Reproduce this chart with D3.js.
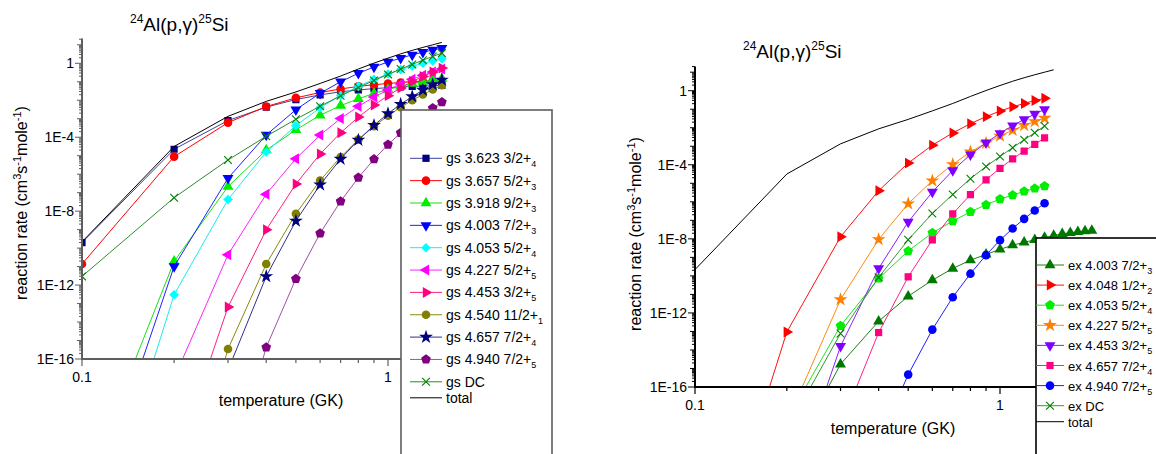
<!doctype html><html><head><meta charset="utf-8">
<style>body{margin:0;background:#fff}</style></head><body>
<script src="https://d3js.org/d3.v7.min.js"></script>
<script>
// temperatures (GK)
const tempsGs = [0.1,0.2,0.3,0.4,0.5,0.6,0.7,0.8,0.9,1.0,1.1,1.2,1.3,1.4,1.5];
const tempsEx = [0.1,0.2,0.3,0.4,0.5,0.6,0.7,0.8,0.9,1.0,1.1,1.2,1.3,1.4];
const tempsEx4003 = [0.1,0.2,0.3,0.4,0.5,0.6,0.7,0.8,0.9,1.0,1.1,1.2,1.3,1.4,1.5,1.6,1.7,1.8,1.9,2.0];

// rates, stored as decade exponents (log10 of cm^3 s^-1 mole^-1)
const gs3623 = [-9.70,-4.65,-3.10,-2.37,-1.96,-1.71,-1.54,-1.44,-1.37,-1.32,-1.28,-1.25,-1.23,-1.21,-1.20];
const gs3657 = [-10.86,-5.05,-3.21,-2.34,-1.87,-1.58,-1.39,-1.25,-1.16,-1.09,-1.04,-1.00,-0.97,-0.95,-0.94];
const gs3918 = [-23.3,-10.72,-6.67,-4.70,-3.60,-2.81,-2.29,-1.92,-1.63,-1.42,-1.24,-1.10,-0.99,-0.90,-0.82];
const gs4003 = [-25.7,-10.99,-6.22,-3.88,-2.51,-1.62,-1.00,-0.54,-0.20,0.07,0.28,0.46,0.60,0.72,0.82];
const gs4053 = [-28.4,-12.52,-7.37,-4.80,-3.37,-2.41,-1.74,-1.24,-0.87,-0.58,-0.34,-0.15,0.00,0.13,0.24];
const gs4227 = [-37.4,-17.05,-10.36,-7.08,-5.16,-3.88,-2.99,-2.33,-1.83,-1.44,-1.12,-0.86,-0.65,-0.47,-0.31];
const gs4453 = [-47.4,-21.8,-13.19,-9.01,-6.53,-4.91,-3.76,-2.91,-2.26,-1.75,-1.33,-0.99,-0.71,-0.47,-0.26];
const gs4540 = [-53.0,-25.5,-15.46,-10.86,-8.14,-6.34,-5.07,-4.13,-3.41,-2.84,-2.38,-2.00,-1.69,-1.42,-1.19];
const gs4657 = [-59.0,-26.8,-16.6,-11.53,-8.53,-6.57,-5.18,-4.15,-3.35,-2.72,-2.21,-1.80,-1.45,-1.15,-0.90];
const gs4940 = [-72.0,-34.2,-22.6,-15.37,-11.66,-9.20,-7.47,-6.19,-5.19,-4.40,-3.76,-3.24,-2.79,-2.42,-2.10];
const gsDC   = [-11.53,-7.27,-5.23,-3.95,-3.03,-2.32,-1.76,-1.31,-0.93,-0.60,-0.31,-0.06,0.17,0.37,0.55];
const total  = [-9.66,-4.50,-2.87,-2.06,-1.55,-1.09,-0.69,-0.31,0.01,0.28,0.51,0.70,0.86,1.00,1.13];

const ex4003 = [-40.0,-20.2,-14.77,-12.45,-11.10,-10.23,-9.60,-9.15,-8.84,-8.57,-8.34,-8.19,-8.05,-7.93,-7.82,-7.73,-7.67,-7.62,-7.58,-7.55];
const ex4048 = [-28.8,-13.03,-7.89,-5.40,-3.91,-2.94,-2.28,-1.78,-1.40,-1.10,-0.87,-0.69,-0.53,-0.41];
const ex4053 = [-30.0,-17.8,-12.70,-10.14,-8.66,-7.67,-7.04,-6.54,-6.16,-5.85,-5.64,-5.43,-5.28,-5.15];
const ex4227 = [-40.0,-17.9,-11.28,-8.03,-6.10,-4.86,-3.98,-3.30,-2.83,-2.44,-2.13,-1.87,-1.66,-1.48];
const ex4453 = [-50.0,-22.3,-13.80,-9.60,-7.09,-5.47,-4.31,-3.45,-2.81,-2.30,-1.89,-1.55,-1.26,-1.01];
const ex4657 = [-60.0,-30.0,-18.13,-13.06,-10.05,-8.05,-6.65,-5.61,-4.81,-4.19,-3.68,-3.26,-2.90,-2.55];
const ex4940 = [-80.0,-40.0,-28.0,-19.0,-15.33,-12.90,-11.15,-9.88,-8.88,-8.07,-7.44,-6.92,-6.47,-6.08];
const exDC   = [-30.0,-18.3,-13.11,-10.08,-8.05,-6.63,-5.60,-4.75,-4.09,-3.55,-3.08,-2.65,-2.27,-1.91];

const yTickLabels = ["1E-16","1E-12","1E-8","1E-4","1"];
const xTickLabels = ["0.1","1"];

const font = "'Liberation Sans', Arial, Helvetica, sans-serif";
const svg = d3.select("body").append("svg")
  .attr("width", 1156).attr("height", 454)
  .style("font-family", font);

// marker shapes
const pentagon = {draw(ctx, size) {
  const r = Math.sqrt(size / 2.378);
  for (let i = 0; i < 5; i++) {
    const a = -Math.PI / 2 + i * 2 * Math.PI / 5;
    i ? ctx.lineTo(r * Math.cos(a), r * Math.sin(a)) : ctx.moveTo(r * Math.cos(a), r * Math.sin(a));
  }
  ctx.closePath();
}};
const cross = {draw(ctx, size) {
  const r = Math.sqrt(size) / 2;
  ctx.moveTo(-r, -r); ctx.lineTo(r, r);
  ctx.moveTo(-r, r); ctx.lineTo(r, -r);
}};
const shapes = {
  square:   {type: d3.symbolSquare, rot: 0, size: 52},
  circle:   {type: d3.symbolCircle, rot: 0, size: 58},
  up:       {type: d3.symbolTriangle, rot: 0, size: 52},
  down:     {type: d3.symbolTriangle, rot: 180, size: 52},
  left:     {type: d3.symbolTriangle, rot: -90, size: 52},
  right:    {type: d3.symbolTriangle, rot: 90, size: 52},
  diamond:  {type: d3.symbolSquare, rot: 45, size: 46},
  star:     {type: d3.symbolStar, rot: 0, size: 60},
  pentagon: {type: pentagon, rot: 0, size: 62},
  cross:    {type: cross, rot: 0, size: 60, stroke: true}
};

const leftSeries = [
  {name: "gs 3.623 3/2+", sub: "4", t: tempsGs, v: gs3623, mark: "#000080", line: "#40409c", shape: "square"},
  {name: "gs 3.657 5/2+", sub: "3", t: tempsGs, v: gs3657, mark: "#ff0000", line: "#ff0000", shape: "circle"},
  {name: "gs 3.918 9/2+", sub: "3", t: tempsGs, v: gs3918, mark: "#00ee00", line: "#16e016", shape: "up"},
  {name: "gs 4.003 7/2+", sub: "3", t: tempsGs, v: gs4003, mark: "#0000ff", line: "#2020ff", shape: "down"},
  {name: "gs 4.053 5/2+", sub: "4", t: tempsGs, v: gs4053, mark: "#00ffff", line: "#20e8e8", shape: "diamond"},
  {name: "gs 4.227 5/2+", sub: "5", t: tempsGs, v: gs4227, mark: "#ff00ff", line: "#ff20ff", shape: "left"},
  {name: "gs 4.453 3/2+", sub: "5", t: tempsGs, v: gs4453, mark: "#ff0080", line: "#ff2080", shape: "right"},
  {name: "gs 4.540 11/2+", sub: "1", t: tempsGs, v: gs4540, mark: "#808000", line: "#8a8a10", shape: "circle"},
  {name: "gs 4.657 7/2+", sub: "4", t: tempsGs, v: gs4657, mark: "#000080", line: "#303090", shape: "star"},
  {name: "gs 4.940 7/2+", sub: "5", t: tempsGs, v: gs4940, mark: "#800080", line: "#a050a0", shape: "pentagon"},
  {name: "gs DC", sub: "", t: tempsGs, v: gsDC, mark: "#008000", line: "#2e8b2e", shape: "cross"},
  {name: "total", sub: "", t: tempsGs, v: total, mark: null, line: "#000000", shape: null}
];
const rightSeries = [
  {name: "ex 4.003 7/2+", sub: "3", t: tempsEx4003, v: ex4003, mark: "#007800", line: "#1a801a", shape: "up"},
  {name: "ex 4.048 1/2+", sub: "2", t: tempsEx, v: ex4048, mark: "#ff0000", line: "#ff1010", shape: "right"},
  {name: "ex 4.053 5/2+", sub: "4", t: tempsEx, v: ex4053, mark: "#00ee00", line: "#20e020", shape: "pentagon"},
  {name: "ex 4.227 5/2+", sub: "5", t: tempsEx, v: ex4227, mark: "#ff8000", line: "#ff8a10", shape: "star"},
  {name: "ex 4.453 3/2+", sub: "5", t: tempsEx, v: ex4453, mark: "#8000ff", line: "#8a20ff", shape: "down"},
  {name: "ex 4.657 7/2+", sub: "4", t: tempsEx, v: ex4657, mark: "#ff0080", line: "#ff2088", shape: "square"},
  {name: "ex 4.940 7/2+", sub: "5", t: tempsEx, v: ex4940, mark: "#0000ff", line: "#2020ff", shape: "circle"},
  {name: "ex DC", sub: "", t: tempsEx, v: exDC, mark: "#008000", line: "#339933", shape: "cross"},
  {name: "total", sub: "", t: tempsGs, v: total, mark: null, line: "#000000", shape: null}
];

function marker(g, shapeKey, color, cx, cy) {
  const s = shapes[shapeKey];
  const p = g.append("path")
    .attr("d", d3.symbol().type(s.type).size(s.size)())
    .attr("transform", `translate(${cx},${cy}) rotate(${s.rot})`);
  if (s.stroke) p.attr("fill", "none").attr("stroke", color).attr("stroke-width", 1.1);
  else p.attr("fill", color);
}

function drawPanel(cfg) {
  const x = d3.scaleLog().domain([0.1, 1]).range([cfg.x0, cfg.x1]);
  const y = d3.scaleLog().domain([1e-16, 1]).range([cfg.yBot, cfg.yOne]);
  const yTop = y(cfg.yMax);
  const id = "clip" + cfg.id;
  svg.append("clipPath").attr("id", id).append("rect")
    .attr("x", cfg.x0).attr("y", yTop).attr("width", 560).attr("height", cfg.yBot - yTop);

  const plot = svg.append("g").attr("clip-path", `url(#${id})`);
  const line = d3.line().x(d => x(d[0])).y(d => y(d[1]));
  cfg.series.forEach(s => {
    const pts = s.t.map((t, i) => [t, Math.pow(10, s.v[i])]);
    plot.append("path").datum(pts).attr("d", line)
      .attr("fill", "none").attr("stroke", s.line).attr("stroke-width", 1);
    if (s.shape) pts.forEach(p => {
      if (p[1] > 1e-18) marker(plot, s.shape, s.mark, x(p[0]), y(p[1]));
    });
  });

  // axes
  const ax = svg.append("g").attr("stroke", cfg.axisColor);
  ax.append("line").attr("x1", cfg.x0).attr("x2", cfg.x0).attr("y1", yTop).attr("y2", cfg.yBot + 1)
    .attr("stroke-width", 2);
  ax.append("line").attr("x1", cfg.x0 - 1).attr("x2", cfg.xEnd).attr("y1", cfg.yBot).attr("y2", cfg.yBot)
    .attr("stroke-width", 2);
  for (let e = -16; e <= 1; e++) {
    for (let k = 1; k <= 9; k++) {
      const v = k * Math.pow(10, e);
      if (v > cfg.yMax * 1.001) continue;
      const len = (k === 1 && e % 4 === 0) ? 7 : (k === 1 ? 5 : 3);
      ax.append("line").attr("x1", cfg.x0 - len).attr("x2", cfg.x0)
        .attr("y1", y(v)).attr("y2", y(v)).attr("stroke-width", 1);
    }
  }
  [0.1,0.2,0.3,0.4,0.5,0.6,0.7,0.8,0.9,1,2,3,4,5].forEach(t => {
    const px = x(t);
    if (px > cfg.xEnd) return;
    const len = (t === 0.1 || t === 1) ? 7 : 4;
    ax.append("line").attr("x1", px).attr("x2", px).attr("y1", cfg.yBot).attr("y2", cfg.yBot + len)
      .attr("stroke-width", 1.2);
  });
  yTickLabels.forEach((lab, i) => {
    svg.append("text").attr("x", cfg.x0 - 8).attr("y", y(Math.pow(10, -16 + 4 * i)))
      .attr("dy", "0.36em").attr("text-anchor", "end").attr("font-size", 14).text(lab);
  });
  xTickLabels.forEach((lab, i) => {
    svg.append("text").attr("x", x(i === 0 ? 0.1 : 1)).attr("y", cfg.yBot + 23)
      .attr("text-anchor", "middle").attr("font-size", 14).text(lab);
  });

  svg.append("text").attr("x", cfg.xTitleX).attr("y", cfg.yBot + 47)
    .attr("text-anchor", "middle").attr("font-size", 16).text("temperature (GK)");

  const yl = svg.append("text")
    .attr("transform", `translate(${cfg.yLabX},${cfg.yLabY}) rotate(-90)`)
    .attr("text-anchor", "middle").attr("font-size", 16);
  yl.append("tspan").text("reaction rate (cm");
  yl.append("tspan").attr("dy", -6).attr("font-size", 11).text("3");
  yl.append("tspan").attr("dy", 6).text("s");
  yl.append("tspan").attr("dy", -6).attr("font-size", 11).text("-1");
  yl.append("tspan").attr("dy", 6).text("mole");
  yl.append("tspan").attr("dy", -6).attr("font-size", 11).text("-1");
  yl.append("tspan").attr("dy", 6).text(")");

  const tt = svg.append("text").attr("x", cfg.titleX).attr("y", cfg.titleY).attr("font-size", 19);
  tt.append("tspan").attr("dy", -8).attr("font-size", 12).text("24");
  tt.append("tspan").attr("dy", 8).text("Al(p,\u03b3)");
  tt.append("tspan").attr("dy", -8).attr("font-size", 12).text("25");
  tt.append("tspan").attr("dy", 8).text("Si");

  // legend box
  const lg = svg.append("g");
  lg.append("rect").attr("x", cfg.lgX).attr("y", cfg.lgY).attr("width", cfg.lgW).attr("height", 460 - cfg.lgY)
    .attr("fill", "#fff").attr("stroke", cfg.lgStroke).attr("stroke-width", 1.6);
  cfg.series.forEach((s, i) => {
    const cy = (s.name === "total") ? cfg.lgY0 + (i - 1) * cfg.lgDy + cfg.lgLast : cfg.lgY0 + i * cfg.lgDy;
    lg.append("line").attr("x1", cfg.lgL1).attr("x2", cfg.lgL2).attr("y1", cy).attr("y2", cy)
      .attr("stroke", s.line).attr("stroke-width", 1);
    if (s.shape) marker(lg, s.shape, s.mark, (cfg.lgL1 + cfg.lgL2) / 2, cy);
    const tx = lg.append("text").attr("x", cfg.lgT).attr("y", cy + 5).attr("font-size", cfg.lgFont);
    tx.append("tspan").text(s.name);
    if (s.sub) tx.append("tspan").attr("dy", 4).attr("font-size", 9).text(s.sub);
  });
}

drawPanel({id: "L", series: leftSeries, x0: 82, x1: 388, yBot: 359, yOne: 63.3, yMax: 22, xEnd: 401,
  axisColor: "#5e5e5e", xTitleX: 281, yLabX: 27, yLabY: 203, titleX: 130, titleY: 31,
  lgX: 401, lgY: 110, lgW: 151, lgStroke: "#5e5e5e", lgY0: 158.3, lgDy: 22.35, lgLast: 16,
  lgL1: 410, lgL2: 442, lgT: 446, lgFont: 14});
drawPanel({id: "R", series: rightSeries, x0: 695, x1: 1000, yBot: 387, yOne: 90.7, yMax: 20, xEnd: 1036,
  axisColor: "#000", xTitleX: 893, yLabX: 641, yLabY: 234, titleX: 743, titleY: 58,
  lgX: 1036, lgY: 238, lgW: 200, lgStroke: "#000", lgY0: 265, lgDy: 20.1, lgLast: 16,
  lgL1: 1036, lgL2: 1064, lgT: 1068, lgFont: 13});
</script></body></html>
